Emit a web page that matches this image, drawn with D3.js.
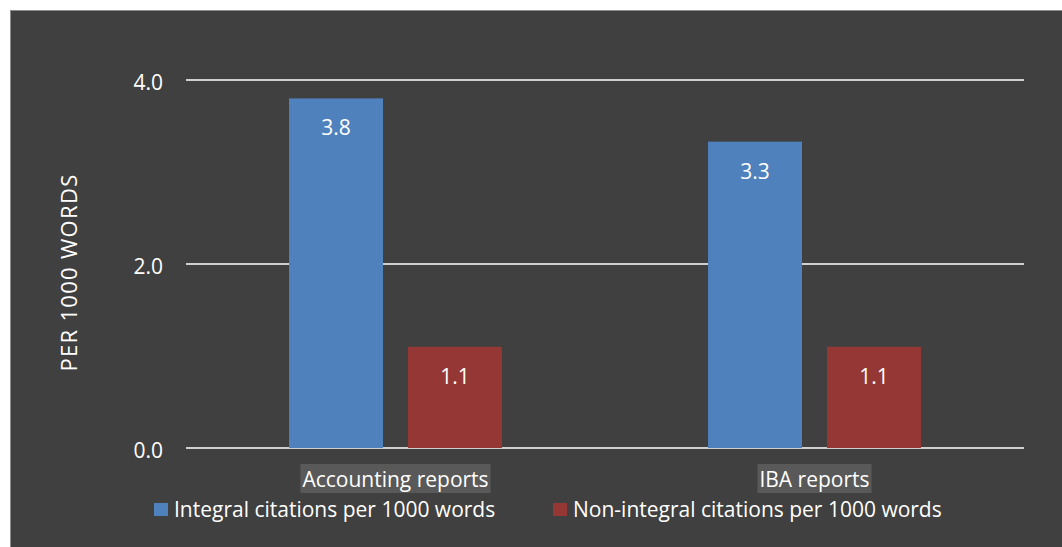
<!DOCTYPE html>
<html lang="en">
<head>
<meta charset="utf-8">
<title>Citations per 1000 words</title>
<script src="https://d3js.org/d3.v7.min.js"></script>
<style>
  body { margin: 0; background: #ffffff; }
  svg { display: block; }
  text { font-family: "Open Sans", Lato, sans-serif; fill: #ffffff; }
</style>
</head>
<body>
<svg id="chart" width="1062" height="547"></svg>
<script>
// data
var categories = ["Accounting reports", "IBA reports"]
var seriesNames = ["Integral citations per 1000 words", "Non-integral citations per 1000 words"]
var integral = [3.8, 3.33]
var nonIntegral = [1.1, 1.1]
var yTicks = [0, 2, 4]
var seriesColors = ["#4f81bd", "#953735"]

var W = 1062, H = 547
var margin = {top: 80, bottom: 99, left: 186, right: 38}
var fs = "21px"

var svg = d3.select("#chart")

// chart area background
svg.append("rect")
  .attr("x", 10.5).attr("y", 10.5)
  .attr("width", W - 10).attr("height", H - 10)
  .attr("fill", "#404040")
  .attr("stroke", "#8c8c8c")
  .attr("stroke-width", 1)

var x0 = d3.scaleBand()
  .domain(categories)
  .range([margin.left, W - margin.right])

var x1 = d3.scaleBand()
  .domain([0, 1])
  .range([0, x0.bandwidth()])
  .paddingInner(0.21)
  .paddingOuter(0.866)

var y = d3.scaleLinear()
  .domain([0, 4])
  .range([H - margin.bottom, margin.top])

// gridlines
svg.append("g")
  .selectAll("line")
  .data(yTicks)
  .join("line")
    .attr("x1", margin.left)
    .attr("x2", W - margin.right)
    .attr("y1", d => y(d))
    .attr("y2", d => y(d))
    .attr("stroke", "#d0d0d0")
    .attr("stroke-width", 2)

// y tick labels
svg.append("g")
  .selectAll("text")
  .data(yTicks)
  .join("text")
    .attr("x", 163)
    .attr("y", d => y(d) + 10)
    .attr("text-anchor", "end")
    .style("font-size", fs)
    .text(d => d.toFixed(1))

// axis title
svg.append("text")
  .attr("transform", "translate(77," + (y(2) + 8.5) + ") rotate(-90)")
  .attr("text-anchor", "middle")
  .style("font-size", "22px")
  .style("letter-spacing", "1.3px")
  .text("PER 1000 WORDS")

// bars
var rows = categories.map((c, i) => ({cat: c, vals: [integral[i], nonIntegral[i]]}))

var groups = svg.append("g")
  .selectAll("g")
  .data(rows)
  .join("g")
    .attr("transform", d => "translate(" + x0(d.cat) + ",0)")

groups.selectAll("rect")
  .data(d => d.vals.map((v, k) => ({v: v, k: k})))
  .join("rect")
    .attr("x", d => x1(d.k))
    .attr("width", x1.bandwidth())
    .attr("y", d => y(d.v))
    .attr("height", d => y(0) - y(d.v))
    .attr("fill", d => seriesColors[d.k])

groups.selectAll("text")
  .data(d => d.vals.map((v, k) => ({v: v, k: k})))
  .join("text")
    .attr("x", d => x1(d.k) + x1.bandwidth() / 2)
    .attr("y", d => y(d.v) + 37)
    .attr("text-anchor", "middle")
    .style("font-size", fs)
    .text(d => d.v.toFixed(1))

// category labels with highlight box
var catLab = svg.append("g")
  .selectAll("g")
  .data(categories)
  .join("g")

catLab.append("text")
  .attr("x", d => x0(d) + x0.bandwidth() / 2)
  .attr("y", 487)
  .attr("text-anchor", "middle")
  .style("font-size", fs)
  .text(d => d)

catLab.each(function() {
  var t = d3.select(this).select("text")
  var bb = t.node().getBBox()
  d3.select(this).insert("rect", "text")
    .attr("x", bb.x - 2)
    .attr("y", 464)
    .attr("width", bb.width + 4)
    .attr("height", 29)
    .attr("fill", "#595959")
})

// legend
var legendX = [154, 553]
var legend = svg.append("g")
  .selectAll("g")
  .data(seriesNames)
  .join("g")
    .attr("transform", (d, i) => "translate(" + legendX[i] + ",503)")

legend.append("rect")
  .attr("width", 14).attr("height", 13)
  .attr("fill", (d, i) => seriesColors[i])

legend.append("text")
  .attr("x", 20)
  .attr("y", 14)
  .style("font-size", fs)
  .text(d => d)
</script>
</body>
</html>
